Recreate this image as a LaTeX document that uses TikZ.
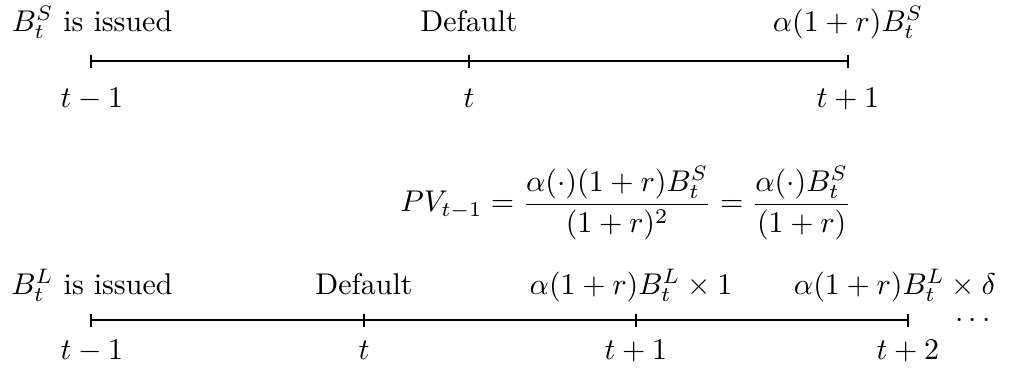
\documentclass[tikz,border=0pt]{standalone}
\begin{document}
\begin{tikzpicture}[x=0.3333pt,y=-0.3333pt,
  axis/.style={line width=0.9pt},
  tick/.style={line width=0.9pt},
  lab/.style={anchor=base,inner sep=0pt}]
\useasboundingbox (0,0) rectangle (1016,368);
% top timeline
\coordinate (a0) at (91,61);
\coordinate (a1) at (469,61);
\coordinate (a2) at (848,61);
\draw[axis] (a0) -- (a1) -- (a2);
\foreach \c in {a0,a1,a2} \draw[tick] ([yshift=6.5pt*0.3333]\c) -- ([yshift=-6.5pt*0.3333]\c);
\node[lab] (la0) at (92,31) {$B_t^S$ is issued};
\node[lab] (la1) at (469,31) {Default};
\node[lab] (la2) at (848,31) {$\alpha(1+r)B_t^S$};
\node[lab] (ta0) at (92,107) {$t-1$};
\node[lab] (ta1) at (469,107) {$t$};
\node[lab] (ta2) at (848,107) {$t+1$};
% equation
\node (eq) at (626,203) {$\displaystyle PV_{t-1}=\frac{\alpha(\cdot)(1+r)B_t^S}{(1+r)^2}=\frac{\alpha(\cdot)B_t^S}{(1+r)}$};
% bottom timeline
\coordinate (b0) at (91,320);
\coordinate (b1) at (364,320);
\coordinate (b2) at (636,320);
\coordinate (b3) at (908,320);
\draw[axis] (b0) -- (b1) -- (b2) -- (b3);
\foreach \c in {b0,b1,b2,b3} \draw[tick] ([yshift=6.5pt*0.3333]\c) -- ([yshift=-6.5pt*0.3333]\c);
\node[lab] (lb0) at (92,294) {$B_t^L$ is issued};
\node[lab] (lb1) at (364,294) {Default};
\node[lab] (lb2) at (631,294) {$\alpha(1+r)B_t^L\times 1$};
\node[lab] (lb3) at (895,294) {$\alpha(1+r)B_t^L\times \delta$};
\node[lab] (tb0) at (92,359) {$t-1$};
\node[lab] (tb1) at (364,359) {$t$};
\node[lab] (tb2) at (636,359) {$t+1$};
\node[lab] (tb3) at (908,359) {$t+2$};
\node[lab] (dots) at (973,327) {$\cdots$};
\end{tikzpicture}
\end{document}
